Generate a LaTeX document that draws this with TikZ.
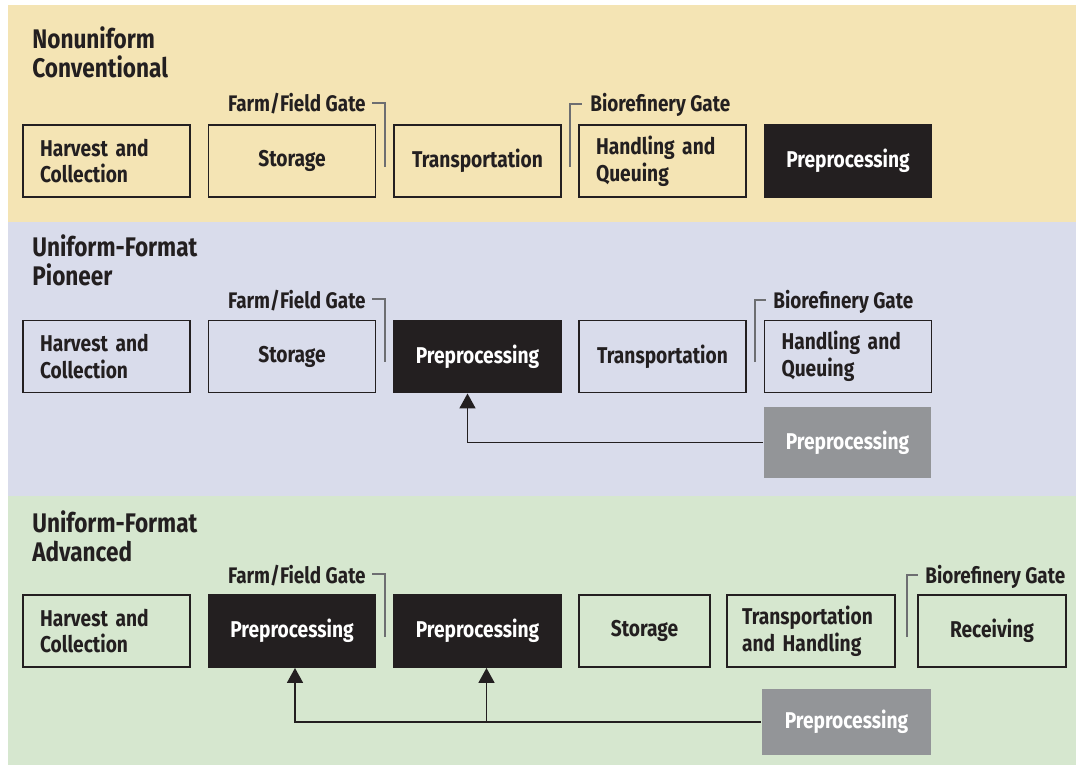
\documentclass[tikz,border=0pt]{standalone}
\usepackage{fontspec}
\setmainfont{Fira Sans}[FakeStretch=0.84]
\usetikzlibrary{positioning,calc,arrows.meta}

\definecolor{bandyellow}{HTML}{F4E4B4}
\definecolor{bandblue}{HTML}{D9DCEB}
\definecolor{bandgreen}{HTML}{D6E7CF}
\definecolor{boxblack}{HTML}{231F20}
\definecolor{boxgray}{HTML}{939598}
\definecolor{gatecolor}{HTML}{6D6E71}

\newcommand\boxfont{\fontsize{13}{15.3}\selectfont\bfseries}
\newcommand\titlefont{\fontsize{15.3}{16.5}\selectfont\bfseries}
\newcommand\gatefont{\fontsize{12.8}{14}\selectfont\bfseries}

\tikzset{
  stagebox/.style={draw=boxblack, line width=1.1pt, minimum width=3.34cm,
    minimum height=1.44cm, inner sep=0pt, font=\boxfont, text=boxblack},
  leftbox/.style={text width=2.66cm, align=left},
  darkbox/.style={stagebox, fill=boxblack, text=white},
  greybox/.style={stagebox, draw=none, fill=boxgray, text=white},
  bandtitle/.style={anchor=north west, inner sep=0pt, align=left,
    font=\titlefont, text=boxblack},
  gatelabel/.style={inner sep=0pt, font=\gatefont, text=boxblack},
  gatemark/.style={draw=gatecolor, line width=0.9pt},
  feedback/.style={draw=boxblack, line width=1pt,
    -{Triangle[width=0.32cm,length=0.3cm]}}
}

\begin{document}
\begin{tikzpicture}[x=0.02cm,y=-0.02cm]
\useasboundingbox (0,0) rectangle (1076,767);

% background bands
\fill[bandyellow] (8,5) rectangle (1076,222);
\fill[bandblue] (8,222) rectangle (1076,496);
\fill[bandgreen] (8,496) rectangle (1076,765);

% ---- Nonuniform Conventional ----
\node[bandtitle] (title1) at (32,26) {Nonuniform\\Conventional};

\node[stagebox,leftbox] (harv1) at (106.5,161) {Harvest and\\Collection};
\node[stagebox] (stor1) at (292,161) {Storage};
\node[stagebox] (tran1) at (477.5,161) {Transportation};
\node[stagebox,leftbox] (hand1) at (662.5,161) {Handling and\\Queuing};
\node[darkbox] (prep1) at (848,161) {Preprocessing};

\node[gatelabel,anchor=base east] (farm1) at (366,112) {Farm/Field Gate};
\draw[gatemark] (372,103) -| (385,167);
\node[gatelabel,anchor=base west] (bio1) at (590,112) {Biorefinery Gate};
\draw[gatemark] (570,167) |- (582,104);

% ---- Uniform-Format Pioneer ----
\node[bandtitle] (title2) at (32,234) {Uniform-Format\\Pioneer};

\node[stagebox,leftbox] (harv2) at (106.5,356.5) {Harvest and\\Collection};
\node[stagebox] (stor2) at (292,356.5) {Storage};
\node[darkbox] (prep2) at (477.5,356.5) {Preprocessing};
\node[stagebox] (tran2) at (662.5,356.5) {Transportation};
\node[stagebox,leftbox] (hand2) at (848,356.5) {Handling and\\Queuing};
\node[greybox] (grey2) at (847.5,442.5) {Preprocessing};

\node[gatelabel,anchor=base east] (farm2) at (366,308) {Farm/Field Gate};
\draw[gatemark] (372,299) -| (385,362);
\node[gatelabel,anchor=base west] (bio2) at (773,308) {Biorefinery Gate};
\draw[gatemark] (755,362) |- (766,300);

\draw[feedback] (grey2.west) -| ([xshift=-0.2cm]prep2.south);

% ---- Uniform-Format Advanced ----
\node[bandtitle] (title3) at (32,510) {Uniform-Format\\Advanced};

\node[stagebox,leftbox] (harv3) at (106.5,631) {Harvest and\\Collection};
\node[darkbox] (prep3a) at (292,631) {Preprocessing};
\node[darkbox] (prep3b) at (477.5,631) {Preprocessing};
\node[stagebox,minimum width=2.62cm] (stor3) at (644.5,631) {Storage};
\node[stagebox,leftbox,text width=2.76cm,minimum width=3.36cm] (tran3) at (811,631) {Transportation\\and Handling};
\node[stagebox,minimum width=2.96cm] (recv3) at (992,631) {Receiving};
\node[greybox,minimum width=3.38cm,minimum height=1.32cm] (grey3) at (846.5,722) {Preprocessing};

\node[gatelabel,anchor=base east] (farm3) at (366,583) {Farm/Field Gate};
\draw[gatemark] (372,574) -| (385,637);
\node[gatelabel,anchor=base west] (bio3) at (925,583) {Biorefinery Gate};
\draw[gatemark] (907,637) |- (918,575);

\coordinate (split3) at ([xshift=0.18cm]prep3b.south |- grey3.west);
\draw[feedback] (grey3.west) -| ([xshift=0.06cm]prep3a.south);
\draw[feedback] (split3) -- ([xshift=0.18cm]prep3b.south);
\end{tikzpicture}
\end{document}
